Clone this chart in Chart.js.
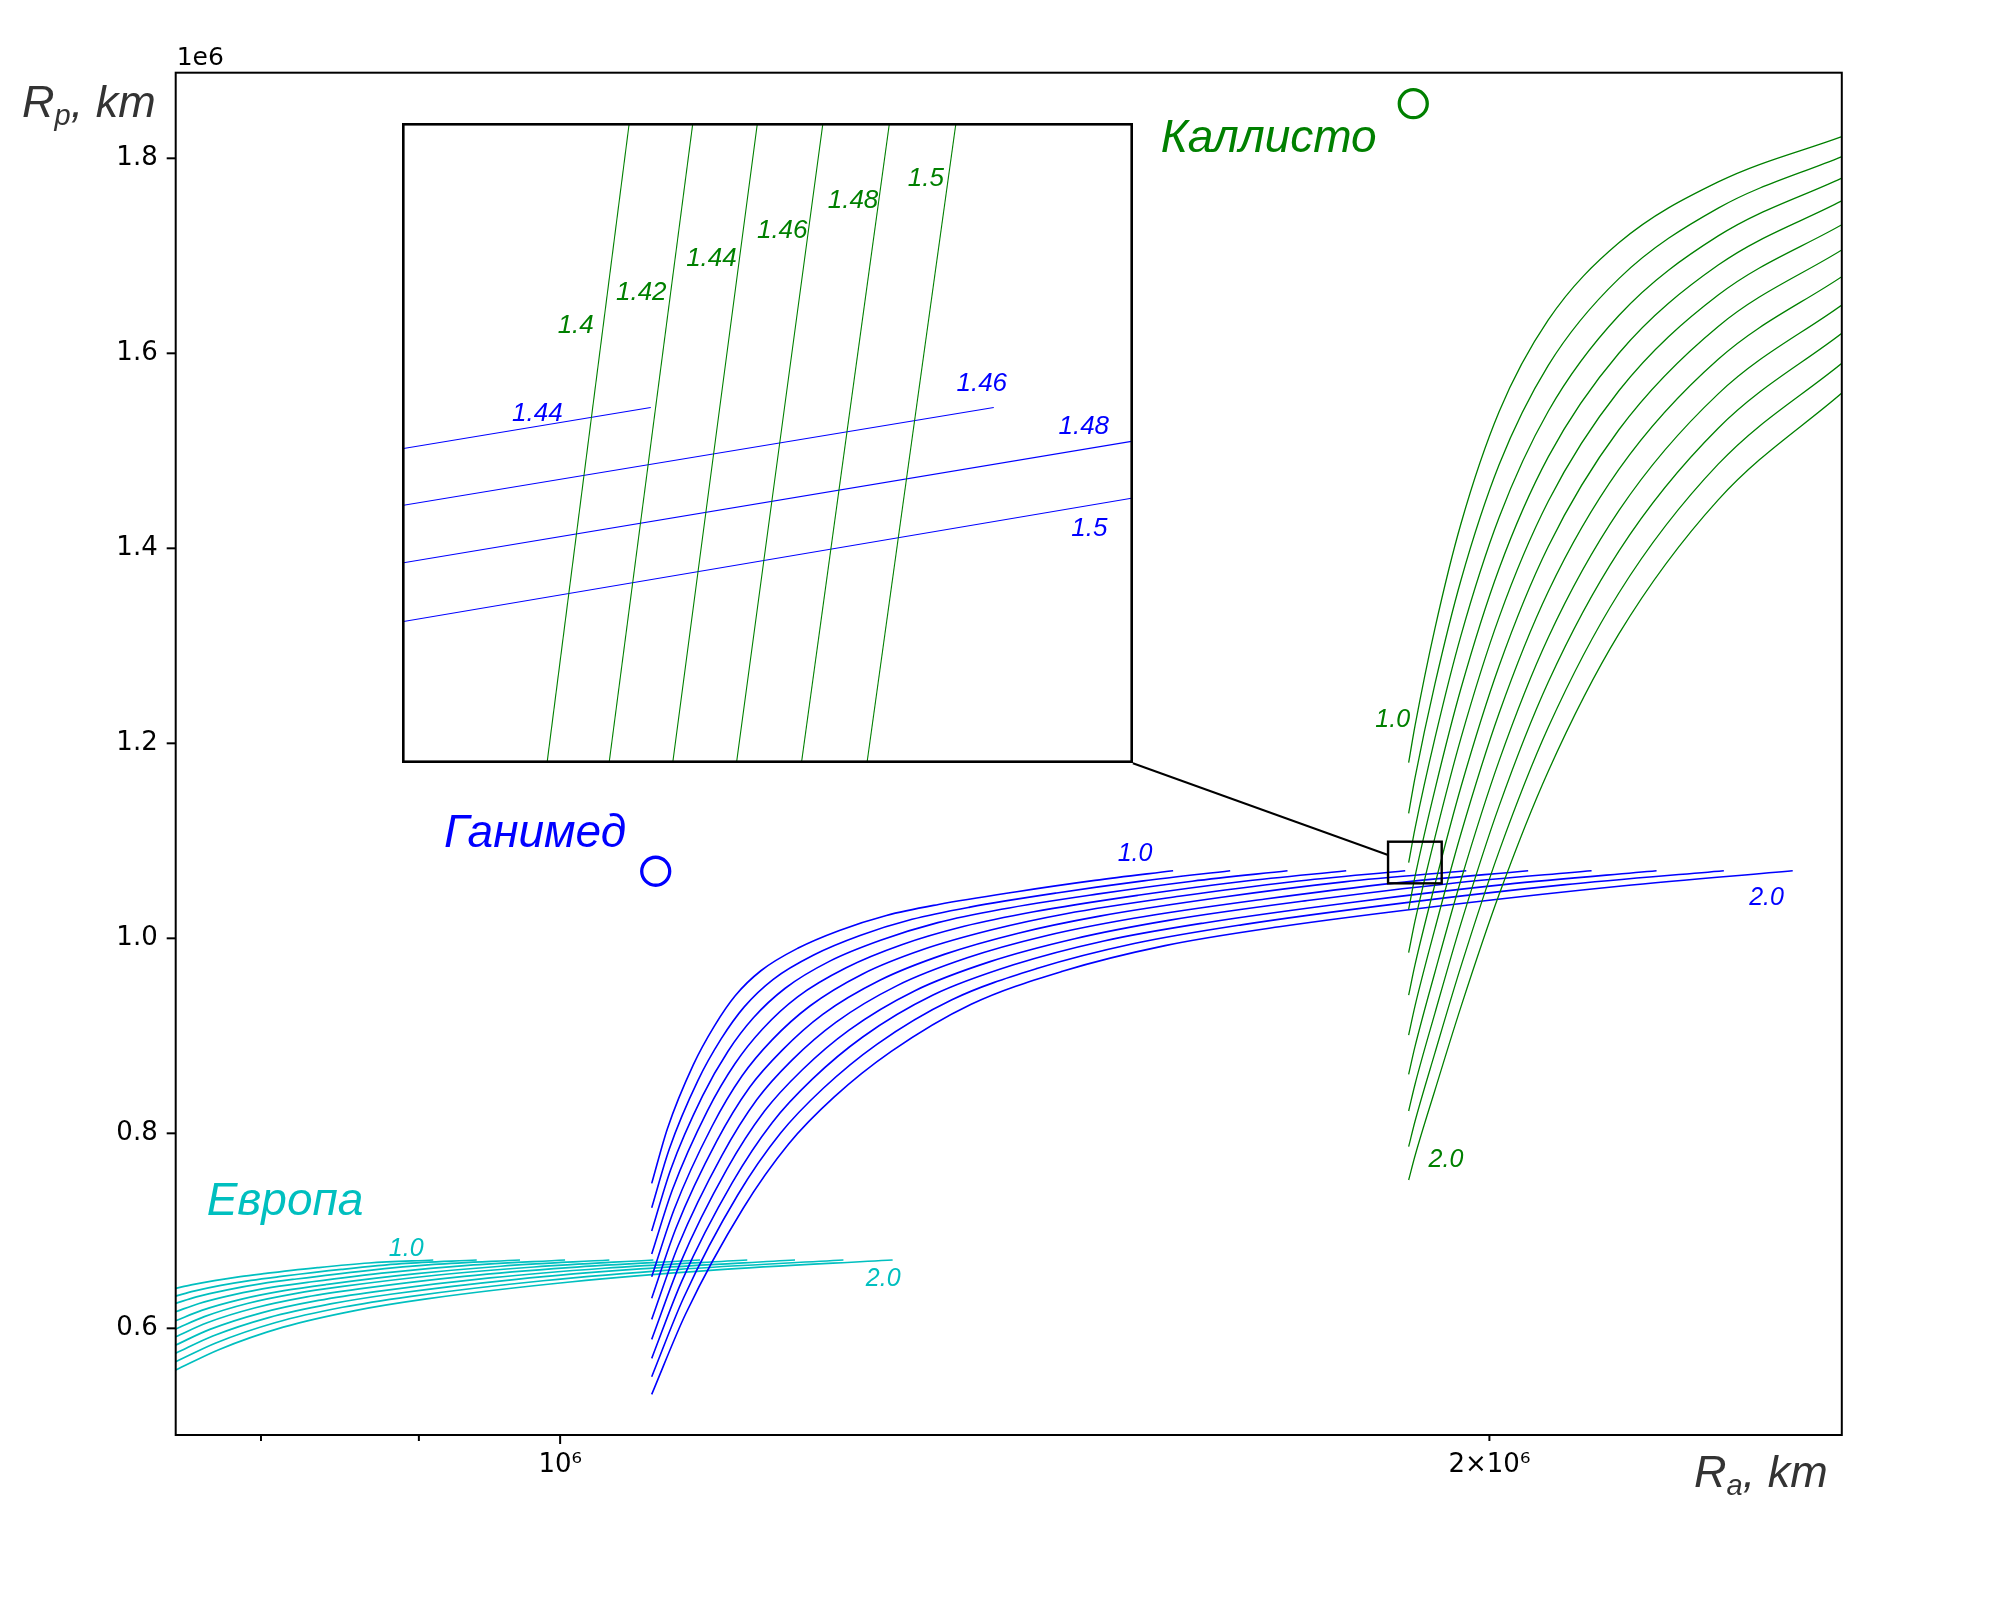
<!DOCTYPE html>
<html>
<head>
<meta charset="utf-8">
<script src="https://cdn.jsdelivr.net/npm/chart.js@4.4.1/dist/chart.umd.min.js"></script>
<style>
  html, body { margin: 0; padding: 0; background: #fff; }
  #wrap { position: relative; width: 2000px; height: 1613px; }
  #inset { position: absolute; background: #fff; }
  #inset canvas { display: block; }
</style>
</head>
<body>
<div id="wrap">
  <canvas id="main" width="2000" height="1613"></canvas>
  <div id="inset"><canvas id="zoom"></canvas></div>
</div>
<script>
// all distances in units of 10^6 km (the "1e6" offset of both axes)
const xTickValues = [0.8, 0.9, 1, 2];
const xTickText = { 1: '10\u2076', 2: '2\u00d710\u2076' };
const yTickValues = [0.6, 0.8, 1.0, 1.2, 1.4, 1.6, 1.8];
const vInf = ['1.0', '1.1', '1.2', '1.3', '1.4', '1.5', '1.6', '1.7', '1.8', '1.9', '2.0'];

// Европа (cyan): apocentre Ra / pericentre Rp of each v-inf curve
const europaRa = [
  [0.7507, 0.7594, 0.7727, 0.7877, 0.8030, 0.8344, 0.8671, 0.9097],
  [0.7507, 0.7609, 0.7764, 0.7941, 0.8121, 0.8494, 0.8884, 0.9397],
  [0.7507, 0.7624, 0.7802, 0.8005, 0.8213, 0.8646, 0.9102, 0.9705],
  [0.7507, 0.7639, 0.7841, 0.8072, 0.8310, 0.8807, 0.9334, 1.0037],
  [0.7507, 0.7654, 0.7880, 0.8139, 0.8407, 0.8969, 0.9568, 1.0374],
  [0.7507, 0.7669, 0.7919, 0.8206, 0.8504, 0.9132, 0.9807, 1.0720],
  [0.7507, 0.7685, 0.7961, 0.8278, 0.8608, 0.9309, 1.0066, 1.1100],
  [0.7507, 0.7701, 0.8003, 0.8351, 0.8715, 0.9491, 1.0336, 1.1498],
  [0.7507, 0.7718, 0.8046, 0.8426, 0.8824, 0.9679, 1.0615, 1.1915],
  [0.7507, 0.7735, 0.8089, 0.8502, 0.8937, 0.9873, 1.0907, 1.2353],
  [0.7507, 0.7752, 0.8134, 0.8581, 0.9052, 1.0074, 1.1211, 1.2815]
];
const europaRp = [
  [0.6410, 0.6445, 0.6490, 0.6531, 0.6563, 0.6622, 0.6670, 0.6701],
  [0.6331, 0.6381, 0.6440, 0.6492, 0.6532, 0.6604, 0.6663, 0.6701],
  [0.6256, 0.6323, 0.6395, 0.6458, 0.6506, 0.6590, 0.6655, 0.6701],
  [0.6170, 0.6255, 0.6346, 0.6422, 0.6478, 0.6574, 0.6646, 0.6701],
  [0.6078, 0.6184, 0.6297, 0.6386, 0.6451, 0.6558, 0.6637, 0.6701],
  [0.5993, 0.6120, 0.6255, 0.6356, 0.6430, 0.6547, 0.6629, 0.6701],
  [0.5914, 0.6057, 0.6208, 0.6322, 0.6404, 0.6533, 0.6623, 0.6701],
  [0.5829, 0.5989, 0.6159, 0.6286, 0.6377, 0.6517, 0.6616, 0.6701],
  [0.5744, 0.5921, 0.6110, 0.6250, 0.6352, 0.6503, 0.6609, 0.6701],
  [0.5657, 0.5850, 0.6060, 0.6216, 0.6326, 0.6488, 0.6603, 0.6701],
  [0.5572, 0.5781, 0.6012, 0.6182, 0.6302, 0.6475, 0.6597, 0.6701]
];

// Ганимед (blue)
const ganymedeRa = [
  [1.0707, 1.0833, 1.1045, 1.1219, 1.1395, 1.1618, 1.1939, 1.2316, 1.2755, 1.3261, 1.4058, 1.4902, 1.5797],
  [1.0707, 1.0847, 1.1083, 1.1276, 1.1472, 1.1723, 1.2082, 1.2507, 1.3002, 1.3575, 1.4483, 1.5451, 1.6484],
  [1.0707, 1.0860, 1.1121, 1.1334, 1.1551, 1.1828, 1.2228, 1.2700, 1.3254, 1.3898, 1.4923, 1.6023, 1.7204],
  [1.0707, 1.0875, 1.1160, 1.1394, 1.1632, 1.1938, 1.2378, 1.2902, 1.3518, 1.4237, 1.5387, 1.6630, 1.7974],
  [1.0707, 1.0889, 1.1199, 1.1454, 1.1715, 1.2048, 1.2532, 1.3108, 1.3789, 1.4585, 1.5868, 1.7264, 1.8783],
  [1.0707, 1.0904, 1.1240, 1.1517, 1.1800, 1.2164, 1.2693, 1.3325, 1.4074, 1.4955, 1.6382, 1.7946, 1.9658],
  [1.0707, 1.0919, 1.1282, 1.1581, 1.1888, 1.2283, 1.2858, 1.3548, 1.4369, 1.5340, 1.6921, 1.8664, 2.0587],
  [1.0707, 1.0935, 1.1325, 1.1647, 1.1978, 1.2405, 1.3030, 1.3781, 1.4679, 1.5744, 1.7491, 1.9430, 2.1584],
  [1.0707, 1.0951, 1.1369, 1.1715, 1.2072, 1.2532, 1.3207, 1.4024, 1.5002, 1.6170, 1.8094, 2.0247, 2.2656],
  [1.0707, 1.0967, 1.1414, 1.1786, 1.2169, 1.2665, 1.3394, 1.4279, 1.5345, 1.6623, 1.8741, 2.1130, 2.3822],
  [1.0707, 1.0984, 1.1462, 1.1858, 1.2269, 1.2802, 1.3588, 1.4546, 1.5703, 1.7099, 1.9427, 2.2072, 2.5078]
];
const ganymedeRp = [
  [0.7487, 0.8048, 0.8705, 0.9100, 0.9411, 0.9670, 0.9898, 1.0081, 1.0235, 1.0347, 1.0478, 1.0594, 1.0693],
  [0.7237, 0.7835, 0.8543, 0.8968, 0.9297, 0.9580, 0.9829, 1.0029, 1.0195, 1.0320, 1.0465, 1.0589, 1.0693],
  [0.6998, 0.7630, 0.8384, 0.8842, 0.9185, 0.9488, 0.9766, 0.9980, 1.0161, 1.0298, 1.0453, 1.0586, 1.0693],
  [0.6762, 0.7426, 0.8228, 0.8716, 0.9073, 0.9400, 0.9698, 0.9934, 1.0123, 1.0272, 1.0441, 1.0583, 1.0693],
  [0.6529, 0.7224, 0.8070, 0.8590, 0.8961, 0.9306, 0.9635, 0.9885, 1.0085, 1.0252, 1.0431, 1.0581, 1.0693],
  [0.6308, 0.7032, 0.7922, 0.8470, 0.8851, 0.9220, 0.9570, 0.9838, 1.0053, 1.0228, 1.0421, 1.0579, 1.0693],
  [0.6092, 0.6842, 0.7771, 0.8346, 0.8751, 0.9138, 0.9515, 0.9800, 1.0026, 1.0205, 1.0403, 1.0569, 1.0693],
  [0.5887, 0.6661, 0.7632, 0.8228, 0.8650, 0.9059, 0.9463, 0.9761, 0.9996, 1.0184, 1.0390, 1.0563, 1.0693],
  [0.5692, 0.6487, 0.7492, 0.8112, 0.8558, 0.8988, 0.9418, 0.9728, 0.9973, 1.0158, 1.0373, 1.0553, 1.0693],
  [0.5504, 0.6319, 0.7362, 0.8000, 0.8462, 0.8913, 0.9370, 0.9692, 0.9946, 1.0138, 1.0361, 1.0548, 1.0693],
  [0.5323, 0.6155, 0.7229, 0.7890, 0.8373, 0.8840, 0.9324, 0.9662, 0.9925, 1.0118, 1.0344, 1.0537, 1.0693]
];

// Каллисто (green): all curves read at the same Ra columns
const callistoRa = [1.8831, 1.8921, 1.9204, 1.9580, 2.0145, 2.0898, 2.2028, 2.3722, 2.6013];
const callistoRp = [
  [1.1801, 1.2181, 1.3179, 1.4252, 1.5400, 1.6342, 1.7133, 1.7758, 1.8223],
  [1.1282, 1.1648, 1.2609, 1.3673, 1.4856, 1.5876, 1.6766, 1.7489, 1.8018],
  [1.0776, 1.1128, 1.2053, 1.3105, 1.4316, 1.5406, 1.6388, 1.7204, 1.7798],
  [1.0297, 1.0635, 1.1526, 1.2562, 1.3791, 1.4938, 1.6001, 1.6905, 1.7563],
  [0.9853, 1.0178, 1.1036, 1.2054, 1.3292, 1.4482, 1.5616, 1.6598, 1.7319],
  [0.9418, 0.9730, 1.0554, 1.1552, 1.2793, 1.4019, 1.5216, 1.6276, 1.7060],
  [0.9008, 0.9307, 1.0099, 1.1073, 1.2308, 1.3557, 1.4809, 1.5939, 1.6786],
  [0.8605, 0.8891, 0.9652, 1.0598, 1.1820, 1.3085, 1.4386, 1.5584, 1.6495],
  [0.8229, 0.8503, 0.9233, 1.0151, 1.1356, 1.2629, 1.3972, 1.5232, 1.6205],
  [0.7863, 0.8124, 0.8825, 0.9712, 1.0892, 1.2164, 1.3542, 1.4863, 1.5898],
  [0.7521, 0.7770, 0.8442, 0.9297, 1.0449, 1.1714, 1.3122, 1.4497, 1.5593]
];

// moon orbits (circle markers)
const callistoOrbit = [1.8896, 1.8560];
const ganymedeOrbit = [1.0739, 1.0688];

// zoomed window: finer v-inf steps
const zoomGreenTags = ['1.4', '1.42', '1.44', '1.46', '1.48', '1.5'];
const zoomGreenRa = [
  [1.90648, 1.91072], [1.90968, 1.91400], [1.91296, 1.91733],
  [1.91625, 1.92071], [1.91960, 1.92414], [1.92298, 1.92757]
];
const zoomGreenRp = [1.0618, 1.0753];
const zoomBlueTags = ['1.44', '1.46', '1.48', '1.5'];
const zoomBlueRa = [
  [1.8990, 1.91183], [1.8990, 1.92952], [1.8990, 1.9367], [1.8990, 1.9367]
];
const zoomBlueRp = [
  [1.06843, 1.0693], [1.06723, 1.0693], [1.06602, 1.06859], [1.06478, 1.06739]
];

const GREEN = '#008000', BLUE = '#0000ff', CYAN = '#00bfbf';
const LABEL_FONT = '"Liberation Sans", Arial, sans-serif';

// text placed in data coordinates
const mainTexts = [
  { t: 'Каллисто', x: 1.6964, y: 1.8068, c: GREEN, s: 46 },
  { t: 'Ганимед', x: 0.9815, y: 1.0939, c: BLUE, s: 46 },
  { t: 'Европа', x: 0.8145, y: 0.7162, c: CYAN, s: 46 },
  { t: '1.0', x: 1.8609, y: 1.2170, c: GREEN, s: 25 },
  { t: '2.0', x: 1.9363, y: 0.7658, c: GREEN, s: 25 },
  { t: '1.0', x: 1.5355, y: 1.0796, c: BLUE, s: 25 },
  { t: '2.0', x: 2.4593, y: 1.0342, c: BLUE, s: 25 },
  { t: '1.0', x: 0.8915, y: 0.6742, c: CYAN, s: 25 },
  { t: '2.0', x: 1.2725, y: 0.6434, c: CYAN, s: 25 }
];
const zoomTexts = [
  { t: '1.4', x: 1.90796, y: 1.07102, c: GREEN },
  { t: '1.42', x: 1.91134, y: 1.07171, c: GREEN },
  { t: '1.44', x: 1.91496, y: 1.07243, c: GREEN },
  { t: '1.46', x: 1.91861, y: 1.07302, c: GREEN },
  { t: '1.48', x: 1.92226, y: 1.07366, c: GREEN },
  { t: '1.5', x: 1.92602, y: 1.07413, c: GREEN },
  { t: '1.44', x: 1.90598, y: 1.06917, c: BLUE },
  { t: '1.46', x: 1.92890, y: 1.06979, c: BLUE },
  { t: '1.48', x: 1.93416, y: 1.06889, c: BLUE },
  { t: '1.5', x: 1.93445, y: 1.06674, c: BLUE }
];
// where the zoom window sits on the main axes, the marked box and the link
const insetPlace = { x: [0.8888, 1.5330], y: [1.1795, 1.8364] };
const markBox = { x: [1.8544, 1.9301], y: [1.0564, 1.0991] };
const linkLine = { x: [1.5330, 1.8544], y: [1.1795, 1.0854] };

function curves(raList, rpList, color, width, tags) {
  return rpList.map((rp, i) => {
    const ra = Array.isArray(raList[0]) ? raList[i] : raList;
    return {
      label: tags[i],
      data: rp.map((v, k) => ({ x: ra[k], y: v })),
      borderColor: color,
      borderWidth: width,
      pointRadius: 0,
      fill: false,
      tension: 0.4,
      cubicInterpolationMode: 'monotone'
    };
  });
}

function orbitMark(p, color) {
  return {
    label: 'orbit',
    data: [{ x: p[0], y: p[1] }],
    showLine: false,
    pointRadius: 14,
    pointHoverRadius: 14,
    pointBorderWidth: 3.3,
    pointBorderColor: color,
    pointBackgroundColor: 'rgba(0,0,0,0)'
  };
}

function line(ctx, x1, y1, x2, y2) {
  ctx.beginPath();
  ctx.moveTo(x1, y1);
  ctx.lineTo(x2, y2);
  ctx.stroke();
}

function subLabel(ctx, x, base, main, sub, rest) {
  ctx.font = 'italic 45px ' + LABEL_FONT;
  ctx.fillText(main, x, base);
  let w = ctx.measureText(main).width;
  ctx.font = 'italic 29px ' + LABEL_FONT;
  ctx.fillText(sub, x + w, base + 8);
  w += ctx.measureText(sub).width;
  ctx.font = 'italic 45px ' + LABEL_FONT;
  ctx.fillText(rest, x + w, base);
}

const mainDecor = {
  id: 'mainDecor',
  afterDatasetsDraw(chart) {
    const { ctx, chartArea: a } = chart;
    const sx = chart.scales.x, sy = chart.scales.y;
    ctx.save();
    ctx.strokeStyle = '#000';
    ctx.lineCap = 'butt';

    // marked box and link to the zoom window
    ctx.lineWidth = 2.4;
    const bx0 = sx.getPixelForValue(markBox.x[0]), bx1 = sx.getPixelForValue(markBox.x[1]);
    const by0 = sy.getPixelForValue(markBox.y[1]), by1 = sy.getPixelForValue(markBox.y[0]);
    ctx.strokeRect(bx0, by0, bx1 - bx0, by1 - by0);
    ctx.lineWidth = 2;
    line(ctx, sx.getPixelForValue(linkLine.x[0]), sy.getPixelForValue(linkLine.y[0]),
              sx.getPixelForValue(linkLine.x[1]), sy.getPixelForValue(linkLine.y[1]));

    // frame
    ctx.lineWidth = 2;
    ctx.strokeRect(a.left, a.top, a.right - a.left, a.bottom - a.top);

    // tick marks
    xTickValues.forEach(v => {
      const px = sx.getPixelForValue(v);
      line(ctx, px, a.bottom, px, a.bottom + (v === 1 ? 9 : 6));
    });
    yTickValues.forEach(v => {
      const py = sy.getPixelForValue(v);
      line(ctx, a.left - 9, py, a.left, py);
    });

    // offset text
    ctx.fillStyle = '#000';
    ctx.font = '25px "DejaVu Sans"';
    ctx.textAlign = 'left';
    ctx.textBaseline = 'alphabetic';
    ctx.fillText('1e6', a.left + 1, a.top - 8);

    // axis titles
    ctx.fillStyle = '#333333';
    subLabel(ctx, 22, 117, 'R', 'p', ', km');
    subLabel(ctx, 1694, 1487, 'R', 'a', ', km');

    // names and curve tags
    ctx.textAlign = 'center';
    mainTexts.forEach(o => {
      ctx.fillStyle = o.c;
      ctx.font = 'italic ' + o.s + 'px ' + LABEL_FONT;
      ctx.fillText(o.t, sx.getPixelForValue(o.x), sy.getPixelForValue(o.y));
    });
    ctx.restore();
  }
};

const mainChart = new Chart(document.getElementById('main'), {
  type: 'line',
  data: {
    datasets: [
      ...curves(callistoRa, callistoRp, GREEN, 1.3, vInf),
      ...curves(ganymedeRa, ganymedeRp, BLUE, 1.6, vInf),
      ...curves(europaRa, europaRp, CYAN, 1.7, vInf),
      orbitMark(callistoOrbit, GREEN),
      orbitMark(ganymedeOrbit, BLUE)
    ]
  },
  options: {
    responsive: false,
    devicePixelRatio: 1,
    animation: false,
    events: [],
    layout: { padding: { left: 0, right: 158.2, top: 72.7, bottom: 0 } },
    plugins: { legend: { display: false }, tooltip: { enabled: false } },
    scales: {
      x: {
        type: 'logarithmic',
        min: 0.7507,
        max: 2.6013,
        bounds: 'data',
        grid: { display: false, drawTicks: false },
        border: { display: false },
        afterFit: s => { s.height = 178; },
        afterBuildTicks: s => { s.ticks = xTickValues.map(v => ({ value: v })); },
        ticks: {
          autoSkip: false,
          maxRotation: 0,
          padding: 15,
          color: '#000',
          font: { family: 'DejaVu Sans', size: 26 },
          callback: v => xTickText[v] || ''
        }
      },
      y: {
        type: 'linear',
        min: 0.4906,
        max: 1.8878,
        bounds: 'data',
        grid: { display: false, drawTicks: false },
        border: { display: false },
        afterFit: s => { s.width = 175.7; },
        afterBuildTicks: s => { s.ticks = yTickValues.map(v => ({ value: v })); },
        ticks: {
          padding: 18,
          color: '#000',
          font: { family: 'DejaVu Sans', size: 26 },
          callback: v => Number(v).toFixed(1)
        }
      }
    }
  },
  plugins: [mainDecor]
});

// zoom window, placed over the main axes
const mx = mainChart.scales.x, my = mainChart.scales.y;
const insetL = mx.getPixelForValue(insetPlace.x[0]);
const insetR = mx.getPixelForValue(insetPlace.x[1]);
const insetT = my.getPixelForValue(insetPlace.y[1]);
const insetB = my.getPixelForValue(insetPlace.y[0]);
const insetBox = document.getElementById('inset');
insetBox.style.left = insetL + 'px';
insetBox.style.top = insetT + 'px';
const zc = document.getElementById('zoom');
zc.width = Math.round(insetR - insetL);
zc.height = Math.round(insetB - insetT);

const zoomDecor = {
  id: 'zoomDecor',
  afterDatasetsDraw(chart) {
    const { ctx, width, height } = chart;
    const sx = chart.scales.x, sy = chart.scales.y;
    ctx.save();
    ctx.font = 'italic 26px ' + LABEL_FONT;
    ctx.textAlign = 'center';
    ctx.textBaseline = 'middle';
    zoomTexts.forEach(o => {
      ctx.fillStyle = o.c;
      ctx.fillText(o.t, sx.getPixelForValue(o.x), sy.getPixelForValue(o.y));
    });
    ctx.strokeStyle = '#000';
    ctx.lineWidth = 2.6;
    ctx.strokeRect(1.3, 1.3, width - 2.6, height - 2.6);
    ctx.restore();
  }
};

new Chart(zc, {
  type: 'line',
  data: {
    datasets: [
      ...curves(zoomGreenRa, zoomGreenTags.map(() => zoomGreenRp), GREEN, 1.1, zoomGreenTags),
      ...curves(zoomBlueRa, zoomBlueRp, BLUE, 1.1, zoomBlueTags)
    ]
  },
  options: {
    responsive: false,
    devicePixelRatio: 1,
    animation: false,
    events: [],
    layout: { padding: 0 },
    plugins: { legend: { display: false }, tooltip: { enabled: false } },
    scales: {
      x: { type: 'linear', min: 1.8990, max: 1.9367, bounds: 'data', display: false },
      y: { type: 'linear', min: 1.0618, max: 1.0753, bounds: 'data', display: false }
    }
  },
  plugins: [zoomDecor]
});
</script>
</body>
</html>
